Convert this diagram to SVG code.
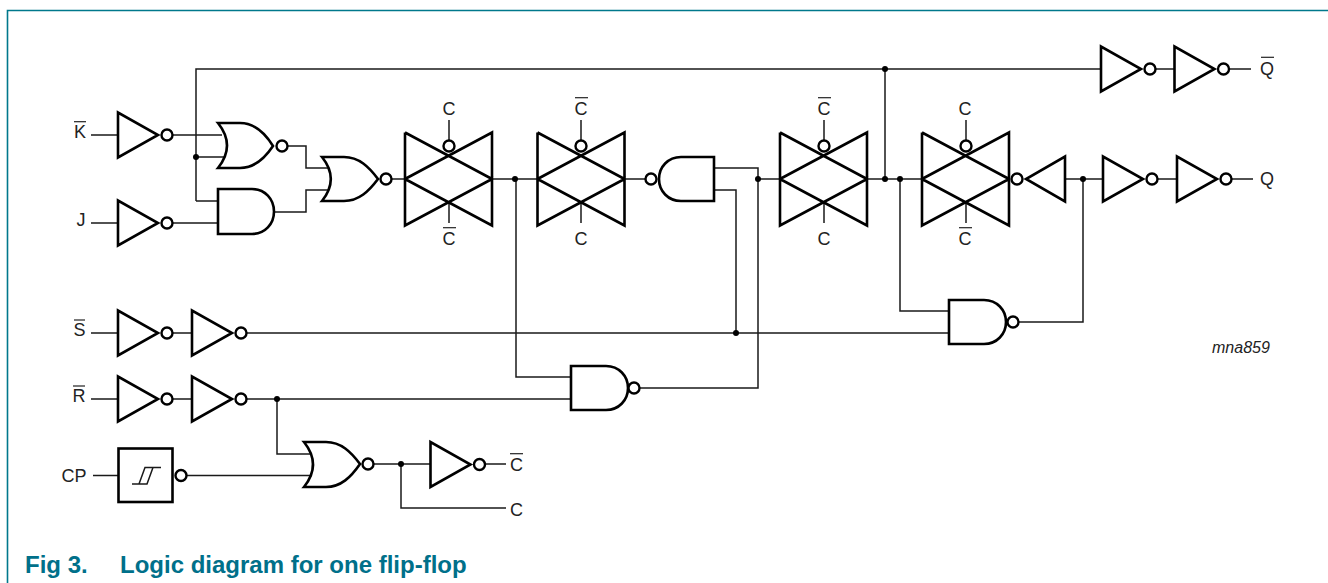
<svg xmlns="http://www.w3.org/2000/svg" width="1328" height="583" viewBox="0 0 1328 583">
<defs>
<g id="inv"><path class="g" d="M0-22.500V22.500L40 0Z"/><circle class="b" cx="49" cy="0" r="5.500"/></g>
<g id="tg"><path class="g" d="M0-46.500V46.500L87 0V46.500L0 0V0M0 0L87-46.500V0L0-46.500"/></g>
</defs>
<style>
.g{fill:none;stroke:#000;stroke-width:2.600;stroke-linejoin:miter}
.b{fill:#fff;stroke:#000;stroke-width:2.400}
.w{fill:none;stroke:#1a1a1a;stroke-width:1.500}
.d{fill:#000}
.bar{stroke:#222;stroke-width:1.200}
text{font-family:"Liberation Sans",Arial,sans-serif;font-size:18px;fill:#222}
.c{text-anchor:middle}
.cap{font-size:24px;font-weight:bold;fill:#00708a}
.id{font-size:16px;font-style:italic}
</style>
<path id="frame" d="M7.500 583V10.500H1328" fill="none" stroke="#00788c" stroke-width="1.600"/>
<g id="connectors">
<path class="w" d="M196 201V69H1101M885 69V179M172 135H222M196 157H225M196 201H218M91 135H118M91 223H118M172 223H218M287 146H306V168H328M274 212H306V190H329M391 179H405"/>
<path class="w" d="M492 179H537M625 179H645M516 179V377H571M714 168H758V388H639M714 190H736V333M758 179H780M867 179H922M900 179V311H949"/>
<path class="w" d="M1065 179H1103M1083 179V322H1018M1157 179H1177M1230 179H1253M1154 69H1174M1228 69H1251"/>
<path class="w" d="M91 333H118M172 333H192M245 333H949M91 399H118M172 399H192M245 399H571M277 399V454H310M93 475.500H118M186 475.500H312M373 464H430M401 464V508H506M484 464H506"/>
<path class="w" d="M449 120V141M449 202V223M581 120V141M581 202V223M824 120V141M824 202V223M966 120V141M966 202V223"/>
<circle class="d" cx="196" cy="157" r="3"/><circle class="d" cx="515" cy="179" r="3"/><circle class="d" cx="758" cy="179" r="3"/><circle class="d" cx="736" cy="333" r="3"/><circle class="d" cx="885" cy="69" r="3"/><circle class="d" cx="885" cy="179" r="3"/><circle class="d" cx="900" cy="179" r="3"/><circle class="d" cx="1083" cy="179" r="3"/><circle class="d" cx="277" cy="399" r="3"/><circle class="d" cx="401" cy="464" r="3"/>
</g>
<g id="inv-k"><use href="#inv" x="118" y="135"/></g>
<g id="inv-j"><use href="#inv" x="118" y="223"/></g>
<g id="inv-s1"><use href="#inv" x="118" y="333"/></g>
<g id="inv-s2"><use href="#inv" x="192" y="333"/></g>
<g id="inv-r1"><use href="#inv" x="118" y="399"/></g>
<g id="inv-r2"><use href="#inv" x="192" y="399"/></g>
<g id="inv-c"><use href="#inv" x="430.500" y="464.500"/></g>
<g id="inv-qb1"><use href="#inv" x="1101" y="69"/></g>
<g id="inv-qb2"><use href="#inv" x="1174.500" y="69"/></g>
<g id="inv-q1"><use href="#inv" x="1103" y="179"/></g>
<g id="inv-q2"><use href="#inv" x="1177" y="179"/></g>
<g id="inv-back"><path class="g" d="M1065 156.500V201.500L1026 179Z"/></g>
<g id="nor1"><path class="g" d="M218 123H240C255 123 265 133 273 146C265 158 255 168 240 168H218C230 153 230 138 218 123Z"/><circle class="b" cx="282" cy="146" r="5.500"/></g>
<g id="and1"><path class="g" d="M218 189H252C265 189 274 199 274 211.500C274 224 265 234 252 234H218Z"/></g>
<g id="nor2"><path class="g" d="M322 157H344C359 157 369 167 378 179C369 191 359 201 344 201H322C334 186 334 172 322 157Z"/><circle class="b" cx="386" cy="179" r="5.500"/></g>
<g id="tg1"><use href="#tg" x="405" y="179"/><circle class="b" cx="449" cy="146" r="5.500"/></g>
<g id="tg2"><use href="#tg" x="537.500" y="179"/><circle class="b" cx="581" cy="146" r="5.500"/></g>
<g id="nand-mid"><path class="g" d="M714 157H681C668 157 659 167 659 179C659 191 668 201 681 201H714Z"/><circle class="b" cx="651" cy="179" r="5.500"/></g>
<g id="tg3"><use href="#tg" x="780" y="179"/><circle class="b" cx="824" cy="146" r="5.500"/></g>
<g id="tg4"><use href="#tg" x="922" y="179"/><circle class="b" cx="966" cy="146" r="5.500"/><circle class="b" cx="1017" cy="179" r="5.500"/></g>
<g id="nand-s"><path class="g" d="M949 300H984C997 300 1006 310 1006 322C1006 334 997 344 984 344H949Z"/><circle class="b" cx="1013" cy="322" r="5.500"/></g>
<g id="nand-r"><path class="g" d="M571 366H606C619 366 628 376 628 388C628 400 619 410 606 410H571Z"/><circle class="b" cx="634" cy="388" r="5.500"/></g>
<g id="nor3"><path class="g" d="M304 442H326C341 442 351 452 360 464C351 477 341 487 326 487H304C316 472 316 457 304 442Z"/><circle class="b" cx="368" cy="464" r="5.500"/></g>
<g id="schmitt"><rect class="g" x="118.500" y="448.500" width="54" height="53.500"/><path class="w" d="M132 484H147L153 467.500H161M139 484L145 467.500H153"/><circle class="b" cx="181" cy="475.500" r="5.500"/></g>
<g id="labels">
<text class="c" x="80" y="138">K</text><line class="bar" x1="74" x2="86" y1="121.700" y2="121.700"/>
<text class="c" x="81" y="226">J</text>
<text class="c" x="79.500" y="336">S</text><line class="bar" x1="74" x2="85" y1="320" y2="320"/>
<text class="c" x="79" y="402">R</text><line class="bar" x1="73" x2="85" y1="386" y2="386"/>
<text class="c" x="74" y="482">CP</text>
<text class="c" x="449" y="115">C</text>
<text class="c" x="449" y="245">C</text><line class="bar" x1="443" x2="456" y1="227.700" y2="227.700"/>
<text class="c" x="581" y="115">C</text><line class="bar" x1="575" x2="588" y1="97.700" y2="97.700"/>
<text class="c" x="581" y="245">C</text>
<text class="c" x="824" y="115">C</text><line class="bar" x1="818" x2="831" y1="97.700" y2="97.700"/>
<text class="c" x="824" y="245">C</text>
<text class="c" x="965" y="115">C</text>
<text class="c" x="965" y="245">C</text><line class="bar" x1="959" x2="972" y1="227.700" y2="227.700"/>
<text class="c" x="1267" y="75">Q</text><line class="bar" x1="1261" x2="1274" y1="57.300" y2="57.300"/>
<text class="c" x="1267" y="185">Q</text>
<text class="c" x="516.500" y="471">C</text><line class="bar" x1="510" x2="523" y1="453.700" y2="453.700"/>
<text class="c" x="516.500" y="516">C</text>
<text class="id" x="1212" y="353">mna859</text>
<text class="cap" x="25" y="573">Fig 3.</text>
<text class="cap" x="120" y="573">Logic diagram for one flip-flop</text>
</g>
</svg>
